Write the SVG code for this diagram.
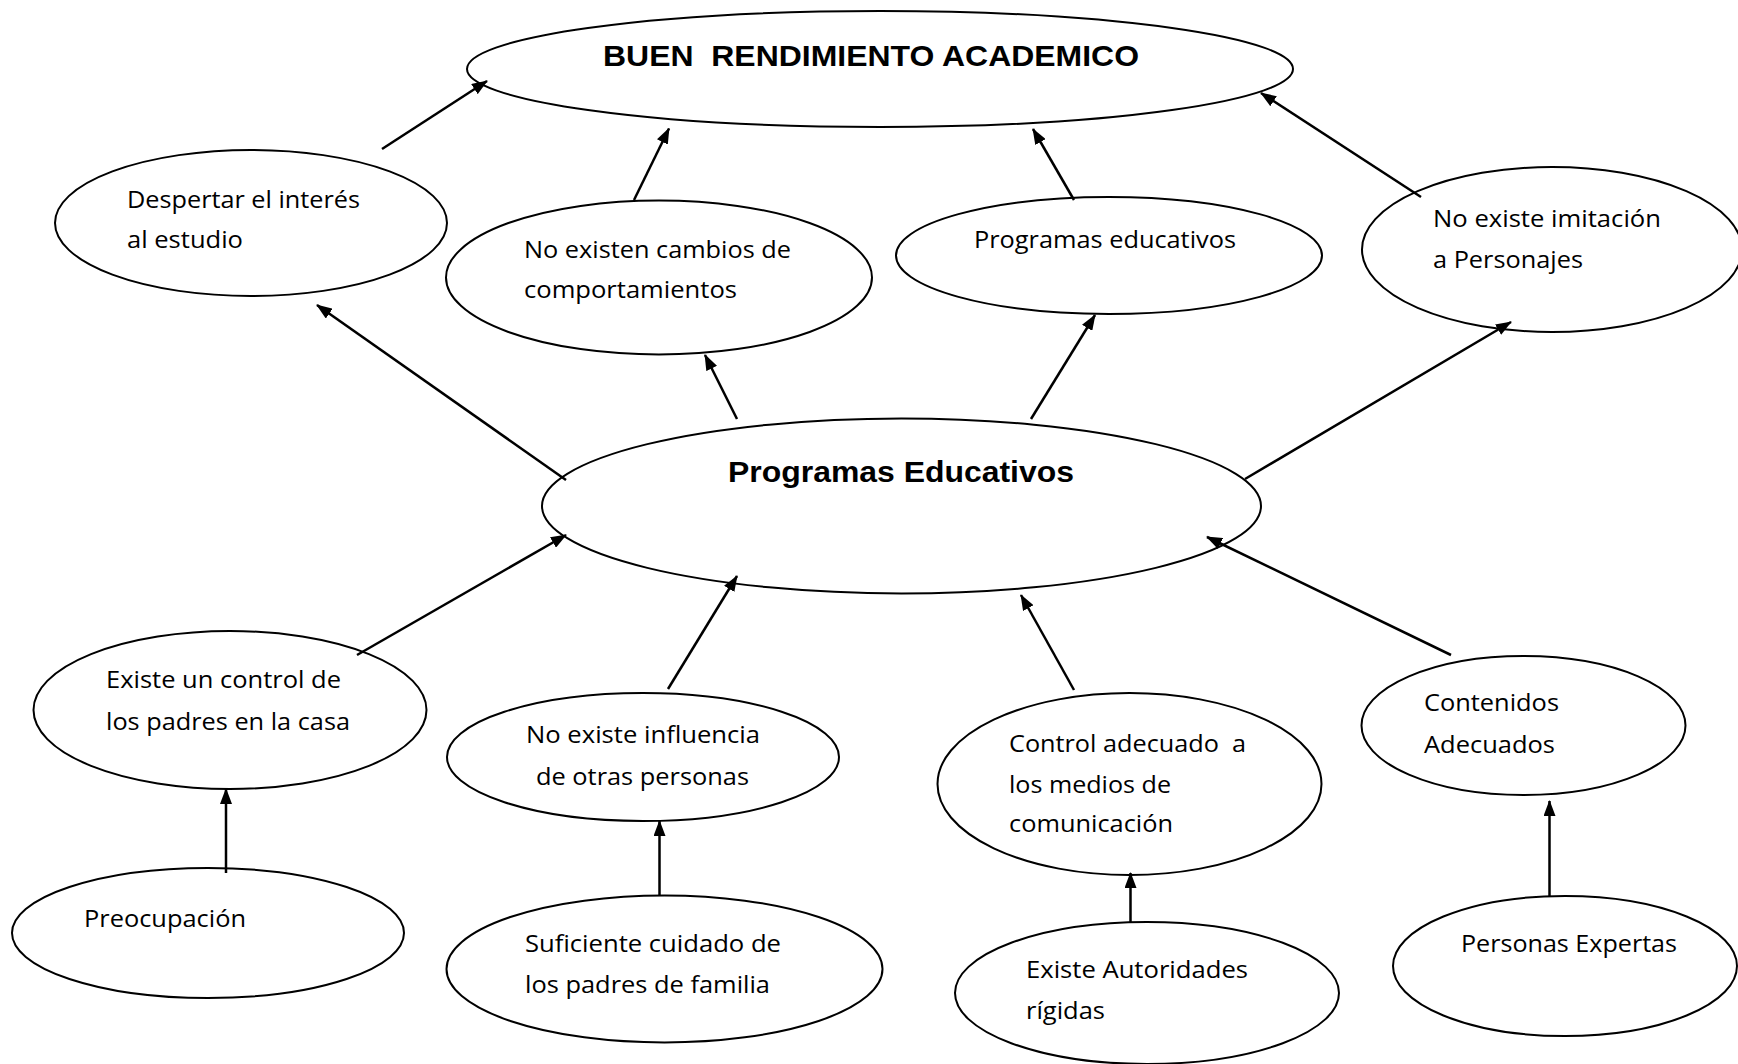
<svg xmlns="http://www.w3.org/2000/svg" width="1738" height="1064" viewBox="0 0 1738 1064">
<style>
.n ellipse{fill:#fff;stroke:#000;stroke-width:2}
.t{font-family:"Open Sans","Liberation Sans",sans-serif;font-size:24.5px;fill:#000}
.b{font-family:"Liberation Sans",Arial,sans-serif;font-weight:bold;font-size:30px;fill:#000}
#edges line{stroke:#000;stroke-width:2.5;marker-end:url(#ah)}
</style>
<defs>
<marker id="ah" markerUnits="userSpaceOnUse" markerWidth="16" markerHeight="12" refX="15" refY="6" orient="auto">
<path d="M0,0 L16,6 L0,12 z" fill="#000"/>
</marker>
</defs>
<rect width="1738" height="1064" fill="#fff"/>
<g class="n" id="n-top"><ellipse cx="880" cy="69" rx="413" ry="58"/>
<text class="b" x="603" y="66" textLength="536" lengthAdjust="spacingAndGlyphs" xml:space="preserve">BUEN  RENDIMIENTO ACADEMICO</text></g>
<g class="n" id="n-despertar"><ellipse cx="251" cy="223" rx="196" ry="73"/>
<text class="t" x="127" y="208" textLength="233" lengthAdjust="spacingAndGlyphs">Despertar el interés</text>
<text class="t" x="127" y="248" textLength="116" lengthAdjust="spacingAndGlyphs">al estudio</text></g>
<g class="n" id="n-cambios"><ellipse cx="659" cy="277.5" rx="213" ry="77"/>
<text class="t" x="524" y="258" textLength="267" lengthAdjust="spacingAndGlyphs">No existen cambios de</text>
<text class="t" x="524" y="298" textLength="213" lengthAdjust="spacingAndGlyphs">comportamientos</text></g>
<g class="n" id="n-progedu"><ellipse cx="1109" cy="255.5" rx="213" ry="58.5"/>
<text class="t" x="974" y="248" textLength="262" lengthAdjust="spacingAndGlyphs">Programas educativos</text></g>
<g class="n" id="n-imitacion"><ellipse cx="1552" cy="249.5" rx="190" ry="82.5"/>
<text class="t" x="1433" y="227" textLength="228" lengthAdjust="spacingAndGlyphs">No existe imitación</text>
<text class="t" x="1433" y="268" textLength="150" lengthAdjust="spacingAndGlyphs">a Personajes</text></g>
<g class="n" id="n-center"><ellipse cx="901.5" cy="506" rx="359.5" ry="87.5"/>
<text class="b" x="728" y="482" textLength="346" lengthAdjust="spacingAndGlyphs">Programas Educativos</text></g>
<g class="n" id="n-control-padres"><ellipse cx="230" cy="710" rx="196.5" ry="79"/>
<text class="t" x="106" y="688" textLength="235" lengthAdjust="spacingAndGlyphs">Existe un control de</text>
<text class="t" x="106" y="730" textLength="244" lengthAdjust="spacingAndGlyphs">los padres en la casa</text></g>
<g class="n" id="n-influencia"><ellipse cx="643" cy="757" rx="196" ry="64"/>
<text class="t" x="526" y="743" textLength="234" lengthAdjust="spacingAndGlyphs">No existe influencia</text>
<text class="t" x="536" y="785" textLength="213" lengthAdjust="spacingAndGlyphs">de otras personas</text></g>
<g class="n" id="n-medios"><ellipse cx="1129.5" cy="784" rx="192" ry="91"/>
<text class="t" x="1009" y="752" textLength="237" lengthAdjust="spacingAndGlyphs" xml:space="preserve">Control adecuado  a</text>
<text class="t" x="1009" y="793" textLength="162" lengthAdjust="spacingAndGlyphs">los medios de</text>
<text class="t" x="1009" y="832" textLength="164" lengthAdjust="spacingAndGlyphs">comunicación</text></g>
<g class="n" id="n-contenidos"><ellipse cx="1523.5" cy="725.5" rx="162" ry="69.5"/>
<text class="t" x="1424" y="711" textLength="135" lengthAdjust="spacingAndGlyphs">Contenidos</text>
<text class="t" x="1424" y="753" textLength="131" lengthAdjust="spacingAndGlyphs">Adecuados</text></g>
<g class="n" id="n-preocupacion"><ellipse cx="208" cy="933" rx="196" ry="65"/>
<text class="t" x="84" y="927" textLength="162" lengthAdjust="spacingAndGlyphs">Preocupación</text></g>
<g class="n" id="n-cuidado"><ellipse cx="664.5" cy="969" rx="218" ry="73.5"/>
<text class="t" x="525" y="952" textLength="256" lengthAdjust="spacingAndGlyphs">Suficiente cuidado de</text>
<text class="t" x="525" y="993" textLength="245" lengthAdjust="spacingAndGlyphs">los padres de familia</text></g>
<g class="n" id="n-autoridades"><ellipse cx="1147" cy="993" rx="192" ry="71"/>
<text class="t" x="1026" y="978" textLength="222" lengthAdjust="spacingAndGlyphs">Existe Autoridades</text>
<text class="t" x="1026" y="1019" textLength="79" lengthAdjust="spacingAndGlyphs">rígidas</text></g>
<g class="n" id="n-expertas"><ellipse cx="1565" cy="966" rx="172" ry="70"/>
<text class="t" x="1461" y="952" textLength="216" lengthAdjust="spacingAndGlyphs">Personas Expertas</text></g>
<g id="edges">
<line x1="382" y1="149" x2="487" y2="81"/>
<line x1="634" y1="200" x2="669" y2="128.5"/>
<line x1="1074" y1="200" x2="1033" y2="129"/>
<line x1="1421" y1="197" x2="1261" y2="93"/>
<line x1="566" y1="480" x2="317" y2="305"/>
<line x1="737" y1="419" x2="705" y2="355"/>
<line x1="1031" y1="419" x2="1095" y2="315"/>
<line x1="1245" y1="479" x2="1511" y2="322"/>
<line x1="357" y1="655" x2="566" y2="535"/>
<line x1="668" y1="689" x2="737" y2="576"/>
<line x1="1074" y1="690" x2="1021" y2="595"/>
<line x1="1451" y1="655" x2="1207" y2="537"/>
<line x1="226" y1="873" x2="226" y2="789"/>
<line x1="659.5" y1="896" x2="659.5" y2="821"/>
<line x1="1130.5" y1="922" x2="1130.5" y2="873"/>
<line x1="1549.5" y1="896" x2="1549.5" y2="801"/>
</g>
</svg>
